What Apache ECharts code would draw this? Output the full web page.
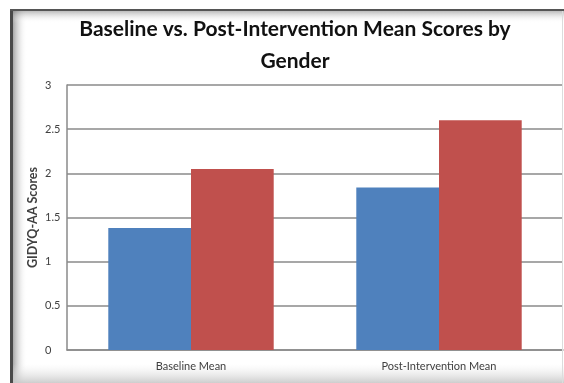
<!DOCTYPE html>
<html>
<head>
<meta charset="utf-8">
<script src="https://cdn.jsdelivr.net/npm/echarts@6/dist/echarts.min.js"></script>
<style>
  html, body { margin: 0; padding: 0; background: #fff; }
  #chart { width: 564px; height: 383px; }
</style>
</head>
<body>
<div id="chart"></div>
<script>
// Mean GIDYQ-AA scores by time point and gender
const categories = ['Baseline Mean', 'Post-Intervention Mean'];
const seriesA = [1.38, 1.84];   // blue bars
const seriesB = [2.05, 2.60];   // red bars
const yTicks = { min: 0, max: 3, interval: 0.5 };

const chart = echarts.init(document.getElementById('chart'), null, { renderer: 'canvas' });

// Framed panel: dark edge with soft inner shading on left/top, grey band at bottom
const frame = [
  { type: 'rect', left: 13, top: 11, shape: { width: 14, height: 372 }, silent: true, z: -1,
    style: { fill: new echarts.graphic.LinearGradient(0, 0, 1, 0, [
      { offset: 0, color: 'rgba(110,110,110,0.6)' }, { offset: 1, color: 'rgba(255,255,255,0)' }]) } },
  { type: 'rect', left: 11, top: 11, shape: { width: 553, height: 12 }, silent: true, z: -1,
    style: { fill: new echarts.graphic.LinearGradient(0, 0, 0, 1, [
      { offset: 0, color: 'rgba(120,120,120,0.5)' }, { offset: 1, color: 'rgba(255,255,255,0)' }]) } },
  { type: 'rect', left: 11, top: 364, shape: { width: 553, height: 19 }, silent: true, z: -1,
    style: { fill: new echarts.graphic.LinearGradient(0, 0, 0, 1, [
      { offset: 0, color: 'rgba(235,235,235,0)' }, { offset: 1, color: 'rgba(200,200,200,0.9)' }]) } },
  { type: 'rect', left: 10, top: 9, shape: { width: 3, height: 374 }, silent: true, z: 1,
    style: { fill: '#4a4a4a' } },
  { type: 'rect', left: 10, top: 9, shape: { width: 554, height: 2 }, silent: true, z: 1,
    style: { fill: '#555555' } },
  { type: 'rect', left: 562, top: 11, shape: { width: 1, height: 372 }, silent: true, z: 1,
    style: { fill: '#dcdcdc' } }
];

chart.setOption({
  animation: false,
  backgroundColor: '#ffffff',
  graphic: frame,
  title: {
    text: 'Baseline vs. Post-Intervention Mean Scores by\nGender',
    left: 290,
    top: 8,
    textAlign: 'center',
    textStyle: {
      fontFamily: 'Lato',
      fontWeight: 'bold',
      fontSize: 21,
      lineHeight: 32,
      color: '#111111'
    }
  },
  grid: { left: 67, right: 1, top: 85, bottom: 33, containLabel: false },
  xAxis: {
    type: 'category',
    data: categories,
    axisLine: { show: true, lineStyle: { color: '#8a8a8a', width: 1.5 } },
    axisTick: { show: false },
    axisLabel: { margin: 11, fontFamily: 'Lato', fontSize: 11, color: '#404040' }
  },
  yAxis: {
    type: 'value',
    min: yTicks.min,
    max: yTicks.max,
    interval: yTicks.interval,
    name: 'GIDYQ-AA Scores',
    nameLocation: 'middle',
    nameGap: 28,
    nameMoveOverlap: false,
    nameTextStyle: { fontFamily: 'Lato', fontWeight: 'bold', fontSize: 12.5, color: '#404040' },
    axisLine: { show: true, lineStyle: { color: '#8a8a8a', width: 1.5 } },
    axisTick: { show: false },
    axisLabel: { align: 'left', margin: 22, fontFamily: 'Lato', fontSize: 11, color: '#404040' },
    splitLine: { show: true, lineStyle: { color: '#8a8a8a', width: 1.5 } }
  },
  series: [
    { type: 'bar', data: seriesA, barGap: '0%', barCategoryGap: '33.3%',
      itemStyle: { color: '#4F81BD' } },
    { type: 'bar', data: seriesB, barGap: '0%', barCategoryGap: '33.3%',
      itemStyle: { color: '#C0504D' } }
  ]
});
</script>
</body>
</html>
